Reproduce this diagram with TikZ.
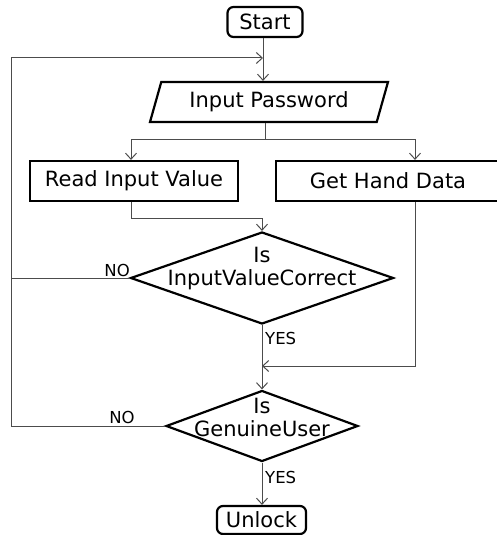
\documentclass[tikz,border=0pt]{standalone}
\usepackage{fontspec}
\setmainfont{DejaVu Sans}
\usetikzlibrary{shapes.geometric,arrows.meta}
\begin{document}
\begin{tikzpicture}[x=1pt,y=-1pt,
  shapeline/.style={draw=black,line width=2.2pt},
  term/.style={shapeline,rounded corners=6pt,inner sep=0pt,font=\fontsize{21}{24}\selectfont},
  procbox/.style={shapeline,inner sep=0pt,font=\fontsize{21}{24}\selectfont},
  iobox/.style={shapeline,trapezium,trapezium left angle=61,trapezium right angle=119,trapezium stretches body,inner sep=0pt,font=\fontsize{21}{24}\selectfont},
  decision/.style={shapeline,diamond,inner sep=0pt},
  dtext/.style={align=center,inner sep=0pt,font=\fontsize{21}{23}\selectfont},
  conn/.style={draw=black!70,line width=1pt},
  arr/.style={conn,-{Straight Barb[length=6pt,width=11pt]}},
  lbl/.style={inner sep=0pt,font=\fontsize{16.5}{18}\selectfont},
]
\useasboundingbox (0,0) rectangle (497,535);
% nodes
\node[term,minimum width=75pt,minimum height=30pt] (start) at (265,22) {Start};
\node[iobox,minimum width=238pt,minimum height=40pt] (inp) at (269,102) {Input Password};
\node[procbox,minimum width=208pt,minimum height=40pt] (read) at (134,181) {Read Input Value};
\node[procbox,minimum width=224pt,minimum height=40pt] (hand) at (388,181) {Get Hand Data};
\node[decision,minimum width=263pt,minimum height=92pt] (d1) at (262,278) {};
\node[dtext] (d1t) at (262,269) {Is\\InputValueCorrect};
\node[decision,minimum width=192pt,minimum height=71pt] (d2) at (262,426) {};
\node[dtext] (d2t) at (262,417) {Is\\GenuineUser};
\node[term,minimum width=89pt,minimum height=28pt] (unlock) at (261.5,520) {Unlock};
% coordinates
\coordinate (loopTop) at (263,58);
\coordinate (loopTL) at (11,58);
\coordinate (loopBL) at (11,426);
\coordinate (d1L) at (11,278);
\coordinate (split) at (265,139);
\coordinate (splitL) at (131,139);
\coordinate (splitR) at (415,139);
\coordinate (readJ) at (131,218);
\coordinate (readJR) at (262,218);
\coordinate (handJ) at (415,366);
\coordinate (handJL) at (262,366);
% connectors
\draw[arr] (start.south -| loopTop) -- (loopTop |- inp.north);
\draw[arr] (d2.west) -- (loopBL) -- (loopTL) -- (loopTop);
\draw[conn] (d1.west) -- (d1L);
\draw[conn] (inp.south -| split) -- (split);
\draw[conn] (splitL) -- (splitR);
\draw[arr] (splitL) -- (splitL |- read.north);
\draw[arr] (splitR) -- (splitR |- hand.north);
\draw[arr] (read.south -| readJ) -- (readJ) -- (readJR) -- (d1.north);
\draw[arr] (d1.south) -- (d2.north);
\draw[arr] (hand.south -| handJ) -- (handJ) -- (handJL);
\draw[arr] (d2.south) -- (unlock.north -| d2.south);
% labels
\node[lbl,anchor=south east] (no1) at (130,277) {NO};
\node[lbl,anchor=south] (no2) at (122,424) {NO};
\node[lbl,anchor=west] (yes1) at (265,338) {YES};
\node[lbl,anchor=west] (yes2) at (265,477) {YES};
\end{tikzpicture}
\end{document}
